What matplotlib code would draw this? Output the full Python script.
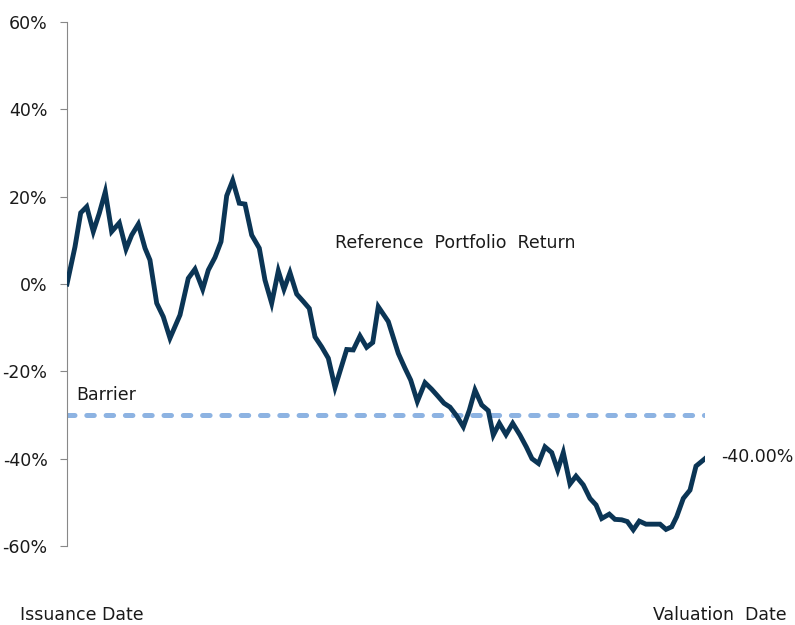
import matplotlib.pyplot as plt
from matplotlib.ticker import PercentFormatter

plt.rcParams['axes.unicode_minus'] = False

# time as % of the way from issuance to valuation date
t = [0, 1.25, 2.15, 3.09, 4.12, 5.06, 6.0, 7.0, 8.2, 9.25, 10.14, 11.18, 12.23, 13.0,
     14.06, 15.09, 16.14, 17.71, 19.01, 20.06, 21.27, 22.15, 23.2, 24.14, 25.03, 25.97,
     27.0, 27.9, 28.95, 30.14, 31.03, 32.08, 33.12, 34.01, 34.95, 36.0, 37.04, 37.98,
     38.87, 39.92, 40.96, 42.01, 43.84, 44.87, 45.92, 46.97, 47.92, 48.79, 50.36, 51.93,
     52.98, 53.87, 54.91, 56.11, 57.16, 58.2, 59.09, 60.03, 61.08, 62.12, 63.06, 63.95,
     65.0, 66.03, 66.82, 67.76, 68.81, 69.86, 71.0, 71.99, 72.88, 73.9, 74.92, 75.97,
     76.91, 77.79, 78.84, 79.78, 80.92, 81.97, 82.92, 83.81, 85.0, 85.89, 86.94, 87.82,
     88.76, 89.7, 90.75, 91.8, 92.95, 93.89, 94.78, 95.56, 96.6, 97.65, 98.59, 100]

# reference portfolio return in %
ret = [0, 8.5, 16.3, 17.7, 12, 16.2, 21.1, 12, 14, 8, 11.2, 13.7, 8.2, 5.5,
       -4.4, -7.5, -12.4, -7.1, 1.3, 3.4, -1.2, 3.2, 6.1, 9.7, 20.2, 23.7,
       18.5, 18.3, 11.2, 8.2, 0.9, -4.4, 3.0, -1.2, 2.6, -2.3, -4.0, -5.6,
       -12.1, -14.4, -17.0, -23.7, -15.0, -15.1, -11.9, -14.5, -13.4, -5.2, -8.6, -15.9,
       -19.3, -22.0, -26.9, -22.6, -24.1, -25.8, -27.3, -28.2, -30.2, -32.7, -28.9, -24.3,
       -27.7, -29.0, -34.6, -31.9, -34.5, -31.9, -34.6, -37.3, -40.0, -41.1, -37.3, -38.6,
       -42.6, -38.6, -45.8, -44.0, -46.0, -49.1, -50.6, -53.7, -52.7, -53.9, -54.0, -54.4,
       -56.3, -54.3, -55.0, -55.0, -55.0, -56.2, -55.6, -53.3, -49.1, -47.2, -41.7, -40.0]

barrier = -30
final_label = "-40.00%"
yticks = [-60, -40, -20, 0, 20, 40, 60]

fs = 12.5
txt = "#1a1a1a"

fig = plt.figure(figsize=(7.95, 6.25), dpi=100)
ax = fig.add_axes([67 / 795, 1 - 546 / 625, 638 / 795, 524 / 625])

ax.plot(t, ret, color="#0b3555", lw=3.5, solid_joinstyle="miter", zorder=3)
ax.plot([t[0], t[-1]], [barrier, barrier], color="#8db3e2", lw=3.6,
        dashes=(1.5, 2.36), dash_capstyle="round", zorder=2)

ax.set_xlim(t[0], t[-1])
ax.set_ylim(-60, 60)
ax.set_yticks(yticks)
ax.yaxis.set_major_formatter(PercentFormatter(decimals=0))
ax.tick_params(axis="y", direction="out", length=5, color="#888888",
               labelsize=fs, labelcolor=txt, pad=9)
ax.set_xticks([])
for s in ["top", "right", "bottom"]:
    ax.spines[s].set_visible(False)
ax.spines["left"].set_color("#888888")
ax.spines["left"].set_bounds(-60, 60)

ax.text(42, 9.5, "Reference  Portfolio  Return", fontsize=fs, color=txt,
        va="center")
ax.text(1.5, -25.5, "Barrier", fontsize=fs, color=txt, va="center")
ax.text(102.5, -39.6, final_label, fontsize=fs, color=txt, va="center",
        clip_on=False)

fig.text(20 / 795, 1 - 615 / 625, "Issuance Date", fontsize=fs, color=txt,
         va="center")
fig.text(787 / 795, 1 - 615 / 625, "Valuation  Date", fontsize=fs, color=txt,
         va="center", ha="right")

fig.savefig("out.png", dpi=100)
